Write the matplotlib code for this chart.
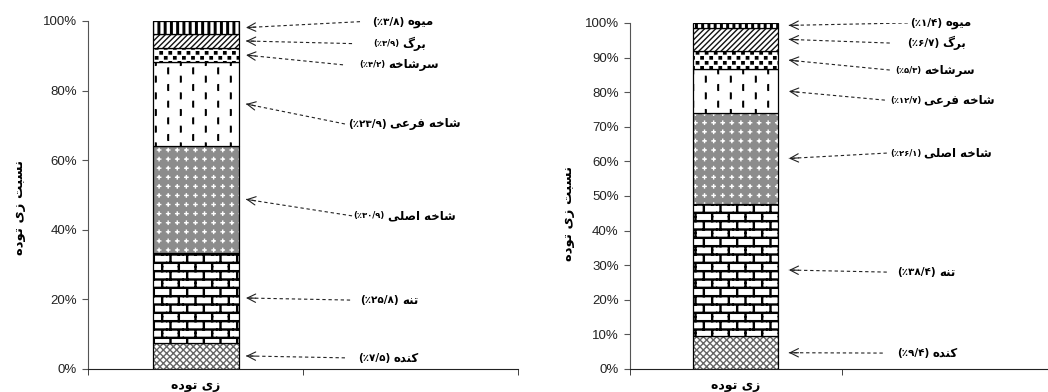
import warnings
import numpy as np
import matplotlib
matplotlib.use('Agg')
import matplotlib.pyplot as plt
from matplotlib import hatch as mhatch
from matplotlib.path import Path

warnings.filterwarnings('ignore', message='hatch must consist')

# share of above-ground biomass per tree component (percent), bottom to top
parts = ['کنده', 'تنه', 'شاخه اصلی', 'شاخه فرعی', 'سرشاخه', 'برگ', 'میوه']
share_left = [7.5, 25.8, 30.9, 23.9, 4.2, 3.9, 3.8]
share_right = [9.4, 38.4, 26.1, 12.7, 5.3, 6.7, 1.4]
category = 'زی توده'
y_title = 'نسبت زی توده'
yticks_left = [0, 20, 40, 60, 80, 100]
yticks_right = [0, 10, 20, 30, 40, 50, 60, 70, 80, 90, 100]

# callout layout: label height (percent), label left edge and dash tail (x units)
lab_y_left = [3.2, 19.8, 44.0, 70.4, 87.4, 93.5, 99.8]
lab_x_left = [1.256, 1.265, 1.233, 1.209, 1.260, 1.326, 1.321]
tail_x_left = [1.195, 1.219, 1.228, 1.195, 1.186, 1.228, 1.265]
small_left = [False, False, True, False, True, True, False]

lab_y_right = [4.6, 28.0, 62.4, 77.7, 86.4, 94.2, 100.0]
lab_x_right = [1.259, 1.259, 1.226, 1.226, 1.250, 1.307, 1.321]
tail_x_right = [1.193, 1.212, 1.212, 1.203, 1.226, 1.226, 1.311]
small_right = [False, False, True, True, True, False, False]

# fill style per component: face colour, hatch colour, hatch
styles = [('white', '#666666', 'xxxxx'),
          ('white', 'black', 'b'),
          ('#8c8c8c', 'white', 'p'),
          ('white', 'black', 'd'),
          ('white', 'black', 'q'),
          ('white', '#111111', '//////'),
          ('white', 'black', 'v')]


# ---- minimal Persian shaping (presentation forms, right-to-left) ----
FORMS = {  # first code point (isolated) and number of forms
    'ا': (0xFE8D, 2), 'ب': (0xFE8F, 4), 'ت': (0xFE95, 4), 'خ': (0xFEA5, 4),
    'د': (0xFEA9, 2), 'ر': (0xFEAD, 2), 'ز': (0xFEAF, 2), 'س': (0xFEB1, 4),
    'ش': (0xFEB5, 4), 'ص': (0xFEB9, 4), 'ع': (0xFEC9, 4), 'ف': (0xFED1, 4),
    'ل': (0xFEDD, 4), 'م': (0xFEE1, 4), 'ن': (0xFEE5, 4), 'ه': (0xFEE9, 4),
    'و': (0xFEED, 2), 'ی': (0xFBFC, 4), 'ک': (0xFB8E, 4), 'گ': (0xFB92, 4),
}
FA_DIGITS = str.maketrans('0123456789', '۰۱۲۳۴۵۶۷۸۹')


def shape(word):
    out = []
    for i, ch in enumerate(word):
        if ch not in FORMS:
            out.append(ch)
            continue
        base, n = FORMS[ch]
        prev = i > 0 and word[i - 1] in FORMS and FORMS[word[i - 1]][1] == 4
        nxt = n == 4 and i + 1 < len(word) and word[i + 1] in FORMS
        form = (3 if nxt else 1) if prev else (2 if nxt else 0)
        out.append(chr(base + form))
    return ''.join(reversed(out))


def fa_pct(v):
    return '(٪' + f'{v:.1f}'.replace('.', '/').translate(FA_DIGITS) + ')'


# ---- extra hatch patterns: bricks, dashes, confetti, plus marks, bars ----
def rect(x0, y0, x1, y1):
    return ([(x0, y0), (x1, y0), (x1, y1), (x0, y1), (x0, y0)],
            [Path.MOVETO, Path.LINETO, Path.LINETO, Path.LINETO, Path.CLOSEPOLY])


def seg(x0, y0, x1, y1):
    return [(x0, y0), (x1, y1)], [Path.MOVETO, Path.LINETO]


class TiledHatch(mhatch.HatchPatternBase):
    char = None
    nx = ny = 6

    def __init__(self, hatch, density):
        k = hatch.count(self.char)
        self.cols = int(round(k * self.nx * density / 6))
        self.rows = int(round(k * self.ny * density / 6))
        verts, codes = [], []
        for v, c in self.cell():
            verts += v
            codes += c
        self.cv = np.array(verts, float)
        self.cc = np.array(codes)
        self.num_vertices = self.cols * self.rows * len(codes)

    def set_vertices_and_codes(self, vertices, codes):
        n = len(self.cc)
        k = 0
        for i in range(self.cols):
            for j in range(self.rows):
                vertices[k:k + n, 0] = (i + self.cv[:, 0]) / self.cols
                vertices[k:k + n, 1] = (j + self.cv[:, 1]) / self.rows
                codes[k:k + n] = self.cc
                k += n


class BrickHatch(TiledHatch):
    char, nx, ny = 'b', 6, 6

    def cell(self):
        t = 0.06
        return [rect(0, 0.2, 1, 0.2 + t), rect(0, 0.7, 1, 0.7 + t),
                rect(0.2, 0.2, 0.2 + t, 0.7),
                rect(0.7, 0.7, 0.7 + t, 1.0), rect(0.7, 0.0, 0.7 + t, 0.2)]


class DashHatch(TiledHatch):
    char, nx, ny = 'd', 4, 6

    def cell(self):
        t = 0.02
        return [rect(0.22, 0.08, 0.22 + t, 0.42), rect(0.72, 0.58, 0.72 + t, 0.92)]


class ConfettiHatch(TiledHatch):
    char, nx, ny = 'q', 11, 10

    def cell(self):
        return [rect(0.1, 0.1, 0.36, 0.33), rect(0.6, 0.6, 0.86, 0.83)]


class PlusHatch(TiledHatch):
    char, nx, ny = 'p', 11, 11

    def cell(self):
        return [seg(0.32, 0.5, 0.68, 0.5), seg(0.5, 0.32, 0.5, 0.68)]


class BarHatch(TiledHatch):
    char, nx, ny = 'v', 16, 1

    def cell(self):
        return [rect(0.3, 0.0, 0.55, 1.0)]


mhatch._hatch_types.extend([BrickHatch, DashHatch, ConfettiHatch, PlusHatch, BarHatch])

plt.rcParams['font.family'] = ['Liberation Sans', 'DejaVu Sans']
FA_FONT = ['DejaVu Sans']

fig = plt.figure(figsize=(10.48, 3.92), dpi=100)


def panel(rect_, shares, yticks, lab_y, lab_x, tail_x, small, tip_x):
    ax = fig.add_axes(rect_)
    ax.set_xlim(0, 2)
    ax.set_ylim(0, 100)
    for s in ('top', 'right'):
        ax.spines[s].set_visible(False)
    ax.spines['left'].set_color('#555555')
    ax.spines['bottom'].set_color('#222222')
    ax.set_yticks(yticks, [f'{t}%' for t in yticks])
    ax.tick_params(axis='y', direction='out', length=4, color='#555555',
                   labelsize=9.5, labelcolor='#222222', pad=4)
    ax.set_xticks([0.5], [shape(category)])
    ax.set_xticks([0, 1, 2], minor=True)
    ax.tick_params(axis='x', which='major', length=0, pad=7)
    ax.tick_params(axis='x', which='minor', direction='out', length=4, color='#222222')
    for lbl in ax.get_xticklabels():
        lbl.set_fontfamily(FA_FONT)
        lbl.set_fontweight('bold')
        lbl.set_fontsize(9)

    bottoms = np.concatenate([[0], np.cumsum(shares)[:-1]])
    for v, b, (face, hc, h) in zip(shares, bottoms, styles):
        ax.bar(0.5, v, width=0.4, bottom=b, color=face, edgecolor=hc,
               linewidth=0, hatch=h)
        ax.bar(0.5, v, width=0.4, bottom=b, fill=False, edgecolor='black',
               linewidth=0.9)

    for i, (name, v, b) in enumerate(zip(parts, shares, bottoms)):
        tip = (tip_x, b + v / 2)
        tail = (tail_x[i], lab_y[i])
        ax.plot([tail[0], tip[0]], [tail[1], tip[1]], color='#222222',
                lw=0.8, ls=(0, (3, 2.5)))
        p0 = ax.transData.transform(tip)
        p1 = ax.transData.transform(tail)
        d = (p1 - p0) / np.hypot(*(p1 - p0))
        ax.annotate('', xy=tip, xytext=tuple(d * 7), textcoords='offset points',
                    arrowprops=dict(arrowstyle='->,head_length=0.6,head_width=0.3',
                                    color='#222222', lw=0.8, shrinkA=0, shrinkB=0))
        num = ax.text(lab_x[i], lab_y[i], fa_pct(v), ha='left', va='center',
                      fontsize=6 if small[i] else 7.5, fontweight='bold',
                      family=FA_FONT)
        ax.annotate(shape(name), xy=(1, 0.5), xycoords=num, xytext=(2.5, 0),
                    textcoords='offset points', ha='left', va='center',
                    fontsize=8.5, fontweight='bold', family=FA_FONT,
                    annotation_clip=False)

    ax.set_ylabel(shape(y_title), fontsize=9.5, fontweight='bold', family=FA_FONT)
    return ax


axl = panel([0.084, 0.0587, 0.4103, 0.8878], share_left, yticks_left,
            lab_y_left, lab_x_left, tail_x_left, small_left, 0.735)
axl.yaxis.set_label_coords(-0.145, 0.463)
axr = panel([0.601, 0.0587, 0.4046, 0.8827], share_right, yticks_right,
            lab_y_right, lab_x_right, tail_x_right, small_right, 0.75)
axr.yaxis.set_label_coords(-0.13, 0.448)

fig.savefig('out.png', dpi=100)
